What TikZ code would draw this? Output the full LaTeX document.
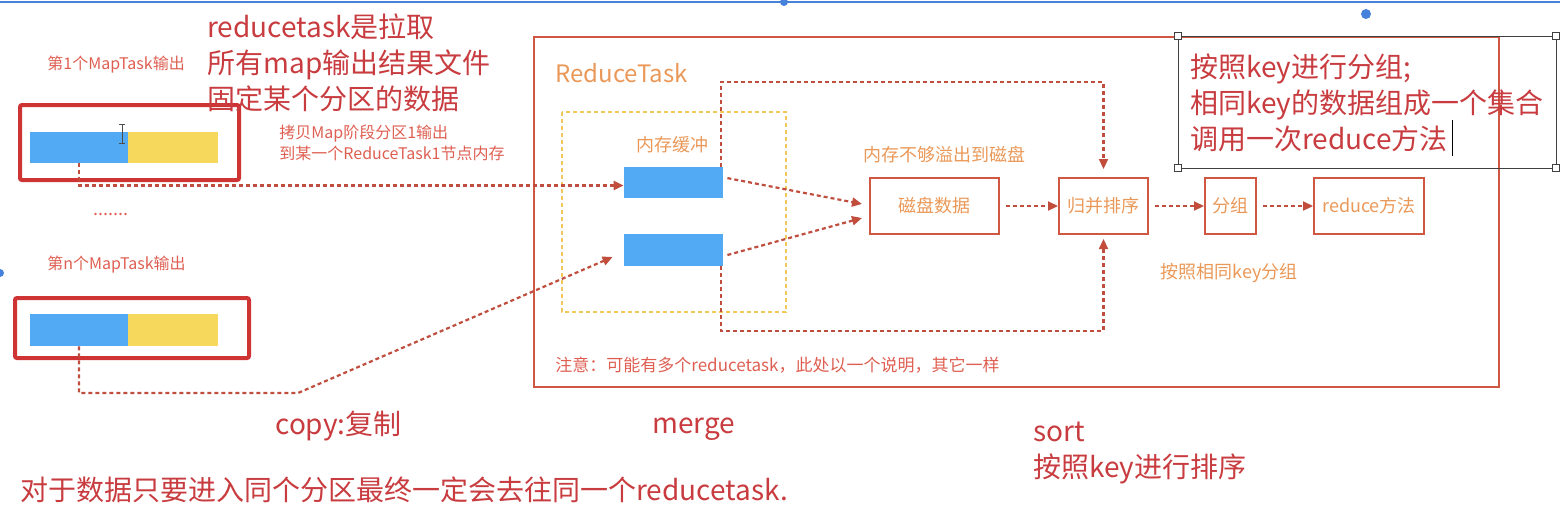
\documentclass[tikz,border=0pt]{standalone}
\usepackage{fontspec}
\setmainfont{Noto Sans CJK SC}
\usetikzlibrary{arrows.meta}

\definecolor{mapred}{RGB}{206,52,52}
\definecolor{txtred}{RGB}{200,60,64}
\definecolor{lblred}{RGB}{222,95,82}
\definecolor{orangetxt}{RGB}{234,152,88}
\definecolor{boxred}{RGB}{208,88,66}
\definecolor{flowred}{RGB}{192,78,62}
\definecolor{tipred}{RGB}{214,72,42}
\definecolor{barblue}{RGB}{82,170,245}
\definecolor{baryellow}{RGB}{245,216,92}
\definecolor{memyellow}{RGB}{240,200,90}
\definecolor{uiblue}{RGB}{70,130,220}

\begin{document}
\begin{tikzpicture}[x=0.5pt,y=-0.5pt,
    big/.style={font=\fontsize{14pt}{18pt}\selectfont, text=txtred, inner sep=0pt},
    lbl/.style={font=\fontsize{8pt}{10.5pt}\selectfont, text=lblred, inner sep=0pt},
    olbl/.style={font=\fontsize{9pt}{11pt}\selectfont, text=orangetxt, inner sep=0pt},
    mapbox/.style={draw=mapred, line width=2pt, rounded corners=1pt, inner sep=0pt},
    bar/.style={minimum height=15.5pt, inner sep=0pt},
    procbox/.style={draw=boxred, line width=1pt, text=orangetxt, font=\fontsize{9pt}{11pt}\selectfont, minimum height=28pt, inner sep=0pt},
    flow/.style={flowred, line width=1.1pt, dash pattern=on 2pt off 1.5pt, -{Triangle[length=5pt,width=4.5pt,fill=tipred]}}]
    \useasboundingbox (0,0) rectangle (1560,526);

    % Editor frame
    \draw[uiblue, line width=1pt] (0,2) -- (1560,2);
    \fill[uiblue] (784,2) circle[radius=2pt] (1366,14) circle[radius=2.5pt] (0,273) circle[radius=2pt];

    % Map outputs
    \node[lbl, anchor=west] (lab1) at (47,65) {第1个MapTask输出};
    \node[mapbox, minimum width=109.5pt, minimum height=37.5pt] (map1) at (129.5,142.5) {};
    \node[bar, fill=barblue, minimum width=49pt] (map1blue) at (79,147.5) {};
    \node[bar, fill=baryellow, minimum width=45pt] (map1yellow) at (173,147.5) {};
    \draw[black!70, line width=0.4pt] (122,124) -- (122,143) (119,124) -- (125,124) (119,143) -- (125,143);
    \node[lbl, anchor=west, font=\fontsize{9pt}{11pt}\selectfont] (dots) at (93,214) {.......};
    \node[lbl, anchor=west] (labn) at (47,265) {第n个MapTask输出};
    \node[mapbox, minimum width=117pt, minimum height=30pt] (map2) at (132,328) {};
    \node[bar, fill=barblue, minimum width=49pt, minimum height=16pt] (map2blue) at (79,330) {};
    \node[bar, fill=baryellow, minimum width=45pt, minimum height=16pt] (map2yellow) at (173,330) {};
    \node[lbl, anchor=west, align=left] (copynote) at (279,142.5) {拷贝Map阶段分区1输出\\到某一个ReduceTask1节点内存};

    % Headline text
    \node[big, anchor=west, align=left] (pull) at (207,63) {reducetask是拉取\\所有map输出结果文件\\固定某个分区的数据};

    % ReduceTask frame
    \draw[boxred, line width=1pt] (534,37) rectangle (1499,387);
    \node[olbl, font=\fontsize{12pt}{14pt}\selectfont, anchor=west] (rtask) at (555,73) {ReduceTask};
    \draw[memyellow, line width=0.8pt, dash pattern=on 2pt off 1.5pt] (562,112) rectangle (786,312);
    \node[olbl] (memlbl) at (672,145) {内存缓冲};
    \node[bar, fill=barblue, minimum width=49.5pt] (buf1) at (673.5,182.5) {};
    \node[bar, fill=barblue, minimum width=49.5pt, minimum height=16pt] (buf2) at (673.5,250) {};
    \node[olbl] (spill) at (944,155) {内存不够溢出到磁盘};
    \node[procbox, minimum width=64.5pt] (disk) at (934.5,206) {磁盘数据};
    \node[procbox, minimum width=44.5pt] (merge) at (1103.5,206) {归并排序};
    \node[procbox, minimum width=25.5pt] (group) at (1230.5,206) {分组};
    \node[procbox, minimum width=55pt] (reducefn) at (1369,206) {reduce方法};
    \node[olbl] (grouplbl) at (1229,273) {按照相同key分组};
    \node[lbl, anchor=west, font=\fontsize{8.5pt}{10pt}\selectfont] (remark) at (555,365) {注意：可能有多个reducetask，此处以一个说明，其它一样};

    % Copy arrows
    \draw[flow] (map1blue.south) |- ([yshift=-1.5pt]buf1.west);
    \coordinate (bend) at (298,393);
    \draw[flow] (map2blue.south) |- (bend) -- ([xshift=-5.5pt,yshift=-3.5pt]buf2.west);

    % Spill and merge arrows
    \draw[flow] ([xshift=2pt,yshift=2.2pt]buf1.east) -- ([xshift=-3.5pt,yshift=1pt]disk.west);
    \draw[flow] ([xshift=2pt,yshift=-2.5pt]buf2.east) -- ([xshift=-3.5pt,yshift=-6pt]disk.west);
    \foreach \a/\b in {disk/merge, merge/group, group/reducefn}
        \draw[flow, shorten <=3pt] (\a) -- (\b);
    \coordinate (looptop) at (721,82);
    \coordinate (loopbot) at (721,331);
    \draw[flow, shorten >=4pt] (looptop |- buf1.north) -- (looptop) -| (merge.north);
    \draw[flow, shorten >=2pt] (loopbot |- buf2.south) -- (loopbot) -| (merge.south);

    % Selected text box
    \draw[black!75, line width=0.5pt] (1178,36) rectangle (1556,168);
    \foreach \p in {(1178,36),(1178,168),(1556,36),(1556,168)}
        \draw[black!75, line width=0.5pt, fill=white] \p +(-3.5,-3.5) rectangle +(3.5,3.5);
    \node[big, anchor=west, align=left] (groupnote) at (1190,103) {按照key进行分组;\\相同key的数据组成一个集合\\调用一次reduce方法};
    \draw[black, line width=0.5pt] (1452,120) -- (1452,156);

    % Stage names
    \node[big, anchor=west] (copylbl) at (275,426) {copy:复制};
    \node[big, anchor=west] (mergelbl) at (652,429) {merge};
    \node[big, anchor=west, align=left] (sortlbl) at (1033,453) {sort\\按照key进行排序};
    \node[big, anchor=west] (summary) at (20,490) {对于数据只要进入同个分区最终一定会去往同一个reducetask.};
\end{tikzpicture}
\end{document}
